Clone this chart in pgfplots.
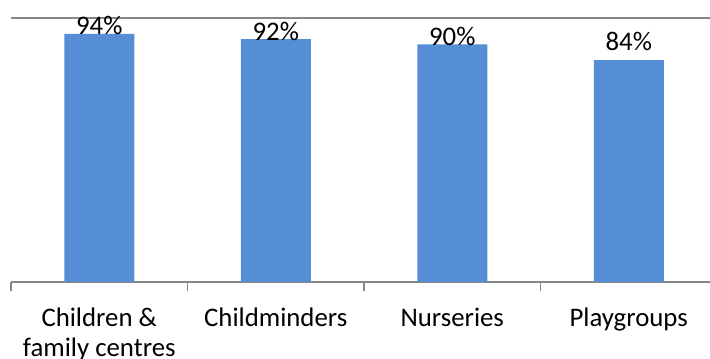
\documentclass[border=0pt]{standalone}
\usepackage{fontspec}
\setmainfont{Carlito}
\usepackage{pgfplots}
\pgfplotsset{compat=1.18}
\usepackage{pgfplotstable}
\definecolor{barblue}{RGB}{85,142,213}
\definecolor{axisgray}{RGB}{134,134,134}

% share rated good or outstanding; off = label shift above the bar top (bp)
\pgfplotstableread{
x y off
0 94 -1
1 92 -1.5
2 90 -1
3 84 10
}\shares

\begin{document}
\begin{tikzpicture}
\begin{axis}[
  at={(11bp,77bp)}, anchor=south west,
  scale only axis, width=706bp, height=264bp,
  xmin=-0.5, xmax=3.5, ymin=0, ymax=100,
  /pgf/number format/assume math mode=true,
  axis x line*=bottom, axis y line*=left,
  y axis line style={draw=none},
  x axis line style={axisgray, line width=1.5bp, -},
  xtick={-0.5,0.5,1.5,2.5,3.5}, xticklabels={},
  tick align=outside,
  xtick style={axisgray, line width=1.5bp},
  major tick length=9bp,
  ytick={100}, yticklabels={}, ytick style={draw=none},
  ymajorgrids, y grid style={axisgray, line width=2bp},
  extra x ticks={0,1,2,3},
  extra x tick labels={{Children \&\\family centres},{Childminders},{Nurseries},{Playgroups}},
  extra x tick style={major tick length=0pt},
  xticklabel style={font=\fontsize{26.8bp}{29.5bp}\selectfont, align=center, anchor=north, inner sep=0pt, yshift=-26bp},
]
\addplot[ybar, bar width=70bp, fill=barblue, draw=none,
  point meta=\thisrow{y},
  visualization depends on={\thisrow{off} \as \laboff},
  nodes near coords={\pgfmathprintnumber{\pgfplotspointmeta}\%},
  every node near coord/.append style={anchor=base, yshift=\laboff bp, inner sep=0pt, text=black, font=\fontsize{26.8bp}{29.5bp}\selectfont},
] table[x=x, y=y] {\shares};
\end{axis}
\pgfresetboundingbox
\useasboundingbox (0,0) rectangle (710bp,359bp);
\end{tikzpicture}
\end{document}
